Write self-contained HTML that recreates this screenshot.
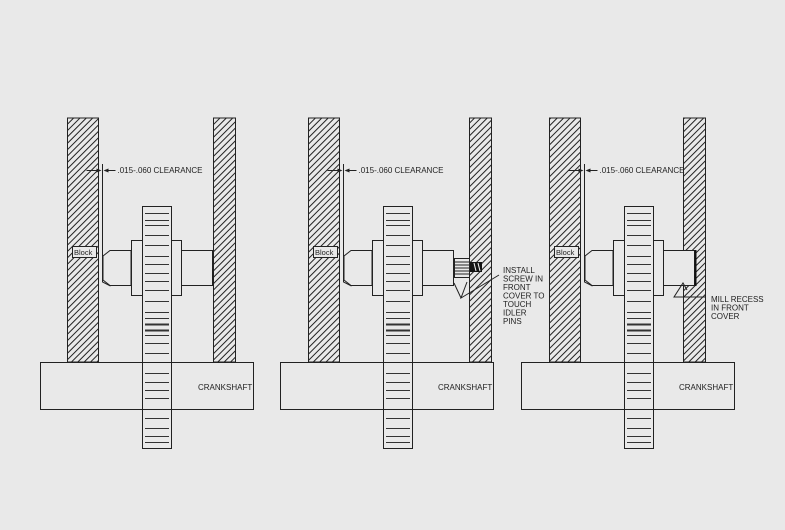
<!DOCTYPE html>
<html><head><style>body{margin:0;background:#e9e9e9}svg{display:block}text{font-family:"Liberation Sans",sans-serif;font-size:8px;fill:#222}</style></head>
<body>
<svg id="s" width="785" height="530" xmlns="http://www.w3.org/2000/svg">
<defs><pattern id="h" width="4.5" height="4.5" patternUnits="userSpaceOnUse" patternTransform="rotate(45)"><rect width="5" height="5" fill="#e9e9e9"/><line x1="0.5" y1="0" x2="0.5" y2="5" stroke="#222" stroke-width="1"/></pattern></defs>
</svg>
<script>
var s=document.getElementById('s'),o='';
var teeth=[213,220,225,235,245,256,264,273,281,290,301,312,318,324,330,335,343,353,373,382,390,398,418,428,436,442];
var P=[{d:0,rw:213,cs:40},{d:241,rw:469,cs:280},{d:482,rw:683,cs:521}];
P.forEach(function(p,i){var d=p.d,st='fill="none" stroke="#222" stroke-width="1"';
o+='<rect x="'+(67.5+d)+'" y="118" width="31" height="244" fill="url(#h)" stroke="#222"/>';
o+='<rect x="'+(p.rw+.5)+'" y="118" width="22" height="244" fill="url(#h)" stroke="#222"/>';
o+='<rect x="'+(p.cs+.5)+'" y="362.5" width="213" height="47" '+st+'/>';
o+='<text x="'+(p.cs+158)+'" y="390">CRANKSHAFT</text>';
var sx=103+d;o+='<path d="M'+(sx+7)+' 250.5 L'+(131+d)+' 250.5 L'+(131+d)+' 285.5 L'+(sx+7)+' 285.5 L'+sx+' 280 L'+sx+' 256 Z" fill="#e9e9e9" stroke="#222"/>';
var re=i==0?213:i==1?454:695;
o+='<rect x="'+(182+d-.5)+'" y="250.5" width="'+(re-182-d)+'" height="35" fill="#e9e9e9" stroke="#222"/>';
if(i==2)o+='<line x1="695.5" y1="250" x2="695.5" y2="286" stroke="#111" stroke-width="2"/>';
if(i==1){o+='<rect x="454.5" y="258.5" width="15" height="19" fill="#e9e9e9" stroke="#222"/>';for(var k=0;k<5;k++)o+='<line x1="455" x2="469" y1="'+(262+k*3)+'" y2="'+(262+k*3)+'" stroke="#222"/>';
o+='<rect x="470" y="262" width="12" height="10" fill="#111"/><line x1="474" y1="263" x2="476" y2="271" stroke="#eee"/><line x1="478" y1="263" x2="480" y2="271" stroke="#eee"/>';
o+='<path d="M499 275 L461 298 L467 282 M461 298 L454 283" '+st+'/>';
['INSTALL','SCREW IN','FRONT','COVER TO','TOUCH','IDLER','PINS'].forEach(function(t,j){o+='<text x="503" y="'+(273+j*8.5)+'">'+t+'</text>'});}
if(i==2){o+='<path d="M706 297 L674 297 L683 283 L687 290" '+st+'/>';['MILL RECESS','IN FRONT','COVER'].forEach(function(t,j){o+='<text x="711" y="'+(302+j*8.5)+'">'+t+'</text>'});}
o+='<rect x="'+(131.5+d)+'" y="240.5" width="50" height="55" fill="#e9e9e9" stroke="#222"/>';
o+='<rect x="'+(142.5+d)+'" y="206.5" width="29" height="242" fill="#e9e9e9" stroke="#222"/>';
teeth.forEach(function(y){var w=(y==324||y==330)?2:1;o+='<line x1="'+(145+d)+'" x2="'+(169+d)+'" y1="'+(y+.5)+'" y2="'+(y+.5)+'" stroke="#333" stroke-width="'+w+'"/>'});
o+='<line x1="'+(142+d)+'" x2="'+(172+d)+'" y1="362.5" y2="362.5" stroke="#222"/><line x1="'+(142+d)+'" x2="'+(172+d)+'" y1="409.5" y2="409.5" stroke="#222"/>';
var cx=102.5+d;o+='<path d="M'+cx+' 164 L'+cx+' 282 L'+(cx+8)+' 286" '+st+'/>';
o+='<line x1="'+(cx-16)+'" y1="170.5" x2="'+(cx-3)+'" y2="170.5" stroke="#222"/><line x1="'+(cx+3)+'" y1="170.5" x2="'+(cx+13)+'" y2="170.5" stroke="#222"/>';
o+='<path d="M'+(cx-1)+' 170.5 l-5 -2 v4z M'+(cx+1)+' 170.5 l5 -2 v4z" fill="#222"/>';
o+='<text x="'+(cx+15)+'" y="173">.015-.060 CLEARANCE</text>';
o+='<rect x="'+(72.5+d)+'" y="246.5" width="24" height="11" fill="#e9e9e9" stroke="#222"/><text x="'+(74+d)+'" y="255" style="font-size:7.5px">Block</text>';
});
s.insertAdjacentHTML('beforeend',o);
</script>
</body></html>
